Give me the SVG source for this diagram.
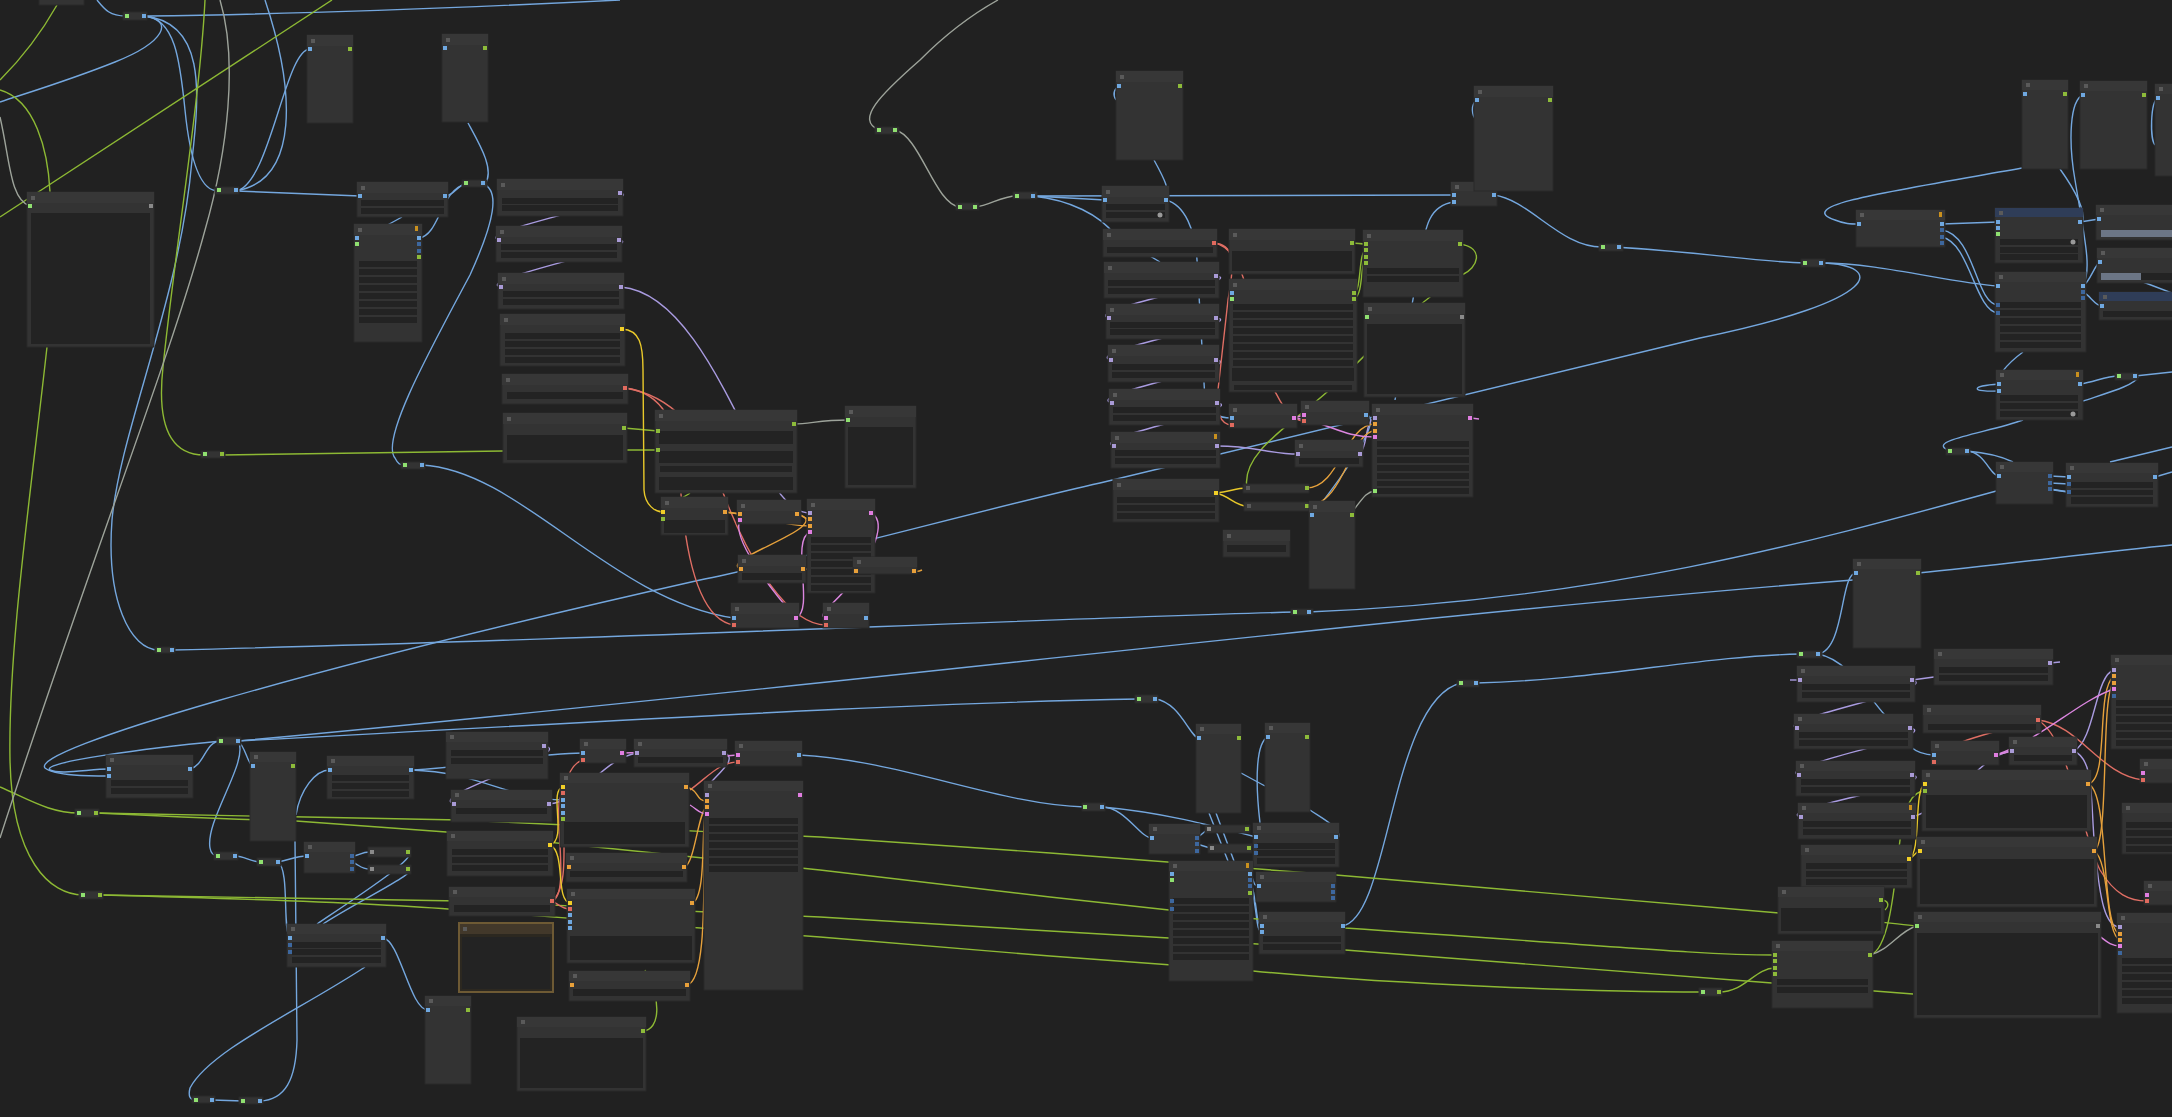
<svg xmlns="http://www.w3.org/2000/svg" width="2172" height="1117" viewBox="0 0 2172 1117">
<style>
.b{fill:#333333;stroke:#2a2a2a;stroke-width:1}
.h{fill:#373737}
.hb{fill:#2f3d58}
.d{fill:#5a5a5a}
.w{fill:#232323}
.r{fill:#333333;stroke:#2a2a2a}
.pb{fill:#6fa8e0}.pg{fill:#8fe070}.po{fill:#8dbb3a}.pp{fill:#a99ad6}.pr{fill:#e06a5e}.py{fill:#f2cf27}.pO{fill:#e8a03a}.pk{fill:#e07de0}.pd{fill:#3d679e}.pG{fill:#8a8a8a}
.ic{fill:#c9901e}
.kn{fill:#9a9a9a}
.sl{fill:#6c7686}
.c{fill:none;stroke-width:1.4}
.cb{stroke:#74a7de}.cg{stroke:#8db934}.cgr{stroke:#9da39a}.cp{stroke:#a99be0}.cr{stroke:#df6e64}.cy{stroke:#e9c92a}.co{stroke:#e6a13c}.ck{stroke:#dc86e0}
</style>
<rect width="2172" height="1117" fill="#212121"/>
<g id="links">
<path class="c cb" d="M147,16 C300,14 460,8 620,0"/>
<path class="c cb" d="M97,0 C105,10 110,16 126,16"/>
<path class="c cb" d="M144,16 C175,20 165,42 115,62 C70,80 30,92 0,102"/>
<path class="c cb" d="M144,16 C175,18 180,60 185,110 C190,160 200,191 218,191"/>
<path class="c cb" d="M144,16 C205,22 200,90 192,160 C180,300 120,430 112,520 C106,600 130,650 159,650"/>
<path class="c cb" d="M236,191 C270,185 285,49 310,49"/>
<path class="c cb" d="M236,191 C300,180 295,90 265,0"/>
<path class="c cb" d="M236,191 L360,196"/>
<path class="c cb" d="M445,196 C455,195 458,184 466,184"/>
<path class="c cb" d="M419,238 C440,235 440,190 466,184"/>
<path class="c cb" d="M382,228 L402,217"/>
<path class="c cb" d="M483,184 C500,190 495,220 470,275 C430,350 380,440 395,458 C398,464 400,465 404,465"/>
<path class="c cb" d="M468,123 C480,145 495,170 485,184"/>
<path class="c cb" d="M422,465 C520,470 610,600 734,618"/>
<path class="c cb" d="M172,650 C600,640 1000,620 1295,612"/>
<path class="c cb" d="M1308,612 C1600,600 1800,545 2000,490 C2030,485 2050,490 2069,492"/>
<path class="c cb" d="M1822,263 C1885,265 1885,300 1700,338 L1100,483 C1000,505 800,560 700,580 C300,670 30,750 45,768 C55,776 90,776 109,776"/>
<path class="c cb" d="M221,741 C150,748 40,762 50,770 C60,775 90,769 109,769"/>
<path class="c cb" d="M190,769 C205,765 205,741 221,741"/>
<path class="c cb" d="M238,741 C245,745 248,766 253,766"/>
<path class="c cb" d="M238,741 C250,760 205,820 210,848 C211,854 214,856 218,856"/>
<path class="c cb" d="M235,856 C245,856 250,862 261,862"/>
<path class="c cb" d="M278,862 C290,860 295,856 307,856"/>
<path class="c cb" d="M278,862 C290,870 282,930 290,938"/>
<path class="c cb" d="M352,856 C360,856 360,852 370,852"/>
<path class="c cb" d="M352,862 C360,865 360,869 370,869"/>
<path class="c cb" d="M408,852 C420,856 360,895 317,924"/>
<path class="c cb" d="M408,869 C420,872 360,900 323,924"/>
<path class="c cb" d="M295,841 L297,1040 C296,1080 285,1100 260,1101"/>
<path class="c cb" d="M212,1100 L243,1101"/>
<path class="c cb" d="M365,967 C300,1010 210,1050 190,1088 C188,1096 190,1100 195,1100"/>
<path class="c cb" d="M383,938 C400,940 410,1010 428,1010"/>
<path class="c cb" d="M296,815 C300,790 315,770 330,770"/>
<path class="c cb" d="M411,770 C480,772 510,800 563,800"/>
<path class="c cb" d="M411,770 C470,768 530,753 583,753"/>
<path class="c cb" d="M238,741 C600,722 900,703 1139,699"/>
<path class="c cb" d="M238,741 C800,690 1400,615 1853,580"/>
<path class="c cb" d="M1918,573 C2000,565 2100,552 2172,545"/>
<path class="c cb" d="M799,755 C900,760 1000,805 1085,807"/>
<path class="c cb" d="M1155,699 C1180,702 1190,738 1199,738"/>
<path class="c cb" d="M1102,807 C1125,807 1140,838 1152,838"/>
<path class="c cb" d="M1102,807 C1160,812 1210,825 1256,837"/>
<path class="c cb" d="M1268,737 C1256,742 1255,780 1260,823"/>
<path class="c cb" d="M1209,813 L1228,861"/>
<path class="c cb" d="M1216,813 L1234,861"/>
<path class="c cb" d="M1310,810 C1325,820 1345,830 1337,840"/>
<path class="c cb" d="M1241,773 L1265,786"/>
<path class="c cb" d="M1342,926 C1390,920 1390,700 1461,683"/>
<path class="c cb" d="M1476,683 C1600,680 1700,656 1801,654"/>
<path class="c cb" d="M1818,654 C1845,650 1840,573 1856,573"/>
<path class="c cb" d="M1818,654 C1850,660 1870,700 1885,715 C1905,745 1915,755 1934,755"/>
<path class="c cb" d="M1197,838 L1208,829"/>
<path class="c cb" d="M1197,844 L1210,848"/>
<path class="c cb" d="M1250,874 C1255,880 1252,886 1259,886"/>
<path class="c cb" d="M1250,880 C1258,900 1255,926 1262,926"/>
<path class="c cb" d="M1250,886 C1258,905 1255,932 1262,932"/>
<path class="c cb" d="M1033,196 L1105,200"/>
<path class="c cb" d="M1033,196 L1454,195"/>
<path class="c cb" d="M1033,196 C1070,200 1100,215 1115,235 L1160,262"/>
<path class="c cb" d="M1154,160 C1165,180 1170,190 1166,200"/>
<path class="c cb" d="M1166,200 C1185,205 1195,230 1197,260 L1205,400 C1208,415 1220,418 1232,418"/>
<path class="c cb" d="M1494,195 C1530,200 1560,247 1602,247"/>
<path class="c cb" d="M1615,247 C1700,252 1760,262 1805,263"/>
<path class="c cb" d="M1822,263 C1880,263 1950,283 1998,286"/>
<path class="c cb" d="M1454,202 C1430,205 1425,225 1420,260 L1395,400"/>
<path class="c cb" d="M1477,100 C1470,105 1472,115 1476,120"/>
<path class="c cb" d="M1119,86 C1113,90 1113,95 1116,100"/>
<path class="c cb" d="M1366,415 C1385,418 1340,480 1312,515"/>
<path class="c cb" d="M2022,168 C1900,190 1790,205 1835,220 C1845,224 1850,224 1859,224"/>
<path class="c cb" d="M1942,224 L1998,222"/>
<path class="c cb" d="M1942,230 C1975,235 1975,303 1998,305"/>
<path class="c cb" d="M1942,237 C1970,243 1975,311 1998,313"/>
<path class="c cb" d="M2080,222 L2099,219"/>
<path class="c cb" d="M2083,95 C2070,100 2068,140 2075,180 C2085,240 2092,270 2083,286"/>
<path class="c cb" d="M2060,169 C2075,190 2085,210 2083,222"/>
<path class="c cb" d="M2083,286 C2090,282 2095,264 2100,262"/>
<path class="c cb" d="M2083,292 C2090,295 2095,306 2102,306"/>
<path class="c cb" d="M2143,282 L2172,293"/>
<path class="c cb" d="M2158,98 C2150,102 2150,140 2155,145"/>
<path class="c cb" d="M2023,352 C2012,360 2005,368 2002,372"/>
<path class="c cb" d="M1999,384 C1970,386 1970,392 1999,391"/>
<path class="c cb" d="M2080,384 C2095,382 2105,376 2119,376"/>
<path class="c cb" d="M2083,401 C2110,392 2135,385 2138,377"/>
<path class="c cb" d="M2135,376 L2172,372"/>
<path class="c cb" d="M2023,420 C1990,432 1930,440 1946,449 C1948,451 1950,451 1950,451"/>
<path class="c cb" d="M1967,451 C1985,452 1990,476 1999,476"/>
<path class="c cb" d="M1967,451 C1990,453 2005,458 2013,462"/>
<path class="c cb" d="M2050,476 L2069,477 M2050,483 L2069,484 M2050,489 L2069,492"/>
<path class="c cb" d="M2155,477 L2172,472"/>
<path class="c cb" d="M2110,462 L2172,447"/>
<path class="c cg" d="M0,90 C35,100 48,150 50,192"/>
<path class="c cg" d="M47,347 C30,500 8,650 10,760 C12,860 50,895 83,895"/>
<path class="c cg" d="M57,5 C40,35 20,60 0,80"/>
<path class="c cg" d="M332,0 L0,217"/>
<path class="c cg" d="M205,0 C200,100 175,250 163,367 C155,440 180,455 204,455"/>
<path class="c cg" d="M222,455 L503,451"/>
<path class="c cg" d="M624,428 L658,431"/>
<path class="c cg" d="M624,450 L658,450"/>
<path class="c cg" d="M0,787 C30,800 50,813 79,813"/>
<path class="c cg" d="M96,813 C250,816 400,818 460,820 L820,837 L1050,853 L1336,875 L1779,913 C1850,918 1880,922 1917,926"/>
<path class="c cg" d="M96,813 C200,818 260,820 296,821 L460,833 L820,870 L1050,897 L1169,910 L1345,928 C1600,945 1700,955 1775,955"/>
<path class="c cg" d="M100,895 L460,901 L820,917 L1050,931 L1169,938 L1345,950 L1772,983 L1913,994"/>
<path class="c cg" d="M100,895 C300,900 400,905 460,910 L820,937 L1050,956 L1253,971 C1400,985 1600,992 1703,992"/>
<path class="c cg" d="M1719,992 C1745,992 1755,968 1775,968"/>
<path class="c cg" d="M1870,955 C1890,950 1895,880 1900,840 C1905,805 1912,791 1925,791"/>
<path class="c cg" d="M1352,243 C1358,243 1360,244 1366,244"/>
<path class="c cg" d="M1354,293 C1362,290 1358,252 1366,250"/>
<path class="c cg" d="M1354,299 C1364,295 1360,260 1366,257"/>
<path class="c cg" d="M1460,244 C1485,248 1478,268 1462,275 C1420,300 1380,340 1340,380 C1300,420 1240,450 1247,488"/>
<path class="c cg" d="M690,493 C680,500 658,510 663,519"/>
<path class="c cg" d="M643,1031 C660,1030 662,1000 645,970"/>
<path class="c cg" d="M1881,900 C1888,900 1890,905 1885,910"/>
<path class="c cgr" d="M220,0 C238,60 228,150 205,230 C170,360 90,560 0,838"/>
<path class="c cgr" d="M0,117 C10,160 10,200 30,206"/>
<path class="c cgr" d="M879,130 C855,120 880,95 920,60 C950,30 980,10 998,0"/>
<path class="c cgr" d="M895,130 C920,135 935,205 960,207"/>
<path class="c cgr" d="M975,207 C990,206 1000,196 1017,196"/>
<path class="c cgr" d="M794,424 C810,424 820,420 848,420"/>
<path class="c cgr" d="M1352,512 C1362,500 1365,492 1375,491"/>
<path class="c cgr" d="M1870,955 C1890,950 1900,930 1917,926"/>
<path class="c cp" d="M620,193 C650,198 470,232 499,240"/>
<path class="c cp" d="M619,240 C650,245 470,280 501,287"/>
<path class="c cp" d="M621,287 C680,292 720,380 760,460 C780,500 795,513 810,513"/>
<path class="c cp" d="M1216,276 C1250,280 1080,310 1109,318"/>
<path class="c cp" d="M1216,318 C1250,322 1080,352 1111,360"/>
<path class="c cp" d="M1216,360 C1250,365 1080,395 1112,403"/>
<path class="c cp" d="M1217,403 C1250,408 1085,438 1114,446"/>
<path class="c cp" d="M1217,446 C1255,446 1270,454 1298,454"/>
<path class="c cp" d="M1360,454 C1368,445 1365,420 1375,418"/>
<path class="c cp" d="M544,746 C580,752 425,795 454,804"/>
<path class="c cp" d="M549,804 C585,800 600,760 637,753"/>
<path class="c cp" d="M724,753 C745,760 695,788 707,795"/>
<path class="c cp" d="M1912,680 L1934,677"/>
<path class="c cp" d="M1912,680 C1945,688 1770,720 1797,728"/>
<path class="c cp" d="M1910,728 C1945,735 1770,767 1799,775"/>
<path class="c cp" d="M1912,775 C1945,782 1770,810 1801,817"/>
<path class="c cp" d="M2074,751 C2095,740 2095,675 2114,670"/>
<path class="c cp" d="M2074,751 C2095,760 2090,800 2095,850 C2100,900 2105,927 2120,927"/>
<path class="c cp" d="M1913,817 C1960,800 1980,755 2012,751"/>
<path class="c cp" d="M1790,680 L1800,680"/>
<path class="c cp" d="M2050,663 L2060,662"/>
<path class="c cr" d="M625,388 C660,392 680,420 680,480 C685,560 700,620 734,625"/>
<path class="c cr" d="M625,388 C670,395 705,430 722,490 C750,565 790,625 826,625"/>
<path class="c cr" d="M1214,243 C1235,245 1235,262 1228,300 L1218,390 C1215,410 1220,425 1232,425"/>
<path class="c cr" d="M1214,243 C1240,247 1248,290 1258,340 C1270,395 1290,421 1304,421"/>
<path class="c cr" d="M552,901 C572,895 550,800 563,793"/>
<path class="c cr" d="M552,901 C560,905 562,909 570,909"/>
<path class="c cr" d="M552,901 C580,880 545,772 583,760"/>
<path class="c cr" d="M690,790 C710,775 720,762 738,762"/>
<path class="c cr" d="M2038,720 C2080,725 2100,775 2143,780"/>
<path class="c cr" d="M2038,720 C2070,740 2080,830 2100,870 C2115,895 2130,901 2147,901"/>
<path class="c cr" d="M2038,720 C2000,730 1920,750 1934,762"/>
<path class="c cy" d="M622,329 C640,330 643,345 643,370 L644,490 C645,505 655,512 663,512"/>
<path class="c cy" d="M1216,493 C1230,492 1235,488 1247,488"/>
<path class="c cy" d="M1216,493 C1230,496 1235,506 1247,506"/>
<path class="c cy" d="M550,845 C568,840 548,790 563,787"/>
<path class="c cy" d="M550,845 C566,852 555,900 570,903"/>
<path class="c cy" d="M1909,859 C1922,852 1913,790 1925,784"/>
<path class="c cy" d="M1909,859 C1915,857 1915,851 1920,851"/>
<path class="c co" d="M725,512 C760,515 780,526 810,526"/>
<path class="c co" d="M725,512 L740,514"/>
<path class="c co" d="M797,514 C840,525 715,560 741,569"/>
<path class="c co" d="M803,569 L856,571"/>
<path class="c co" d="M797,514 C803,516 805,519 810,519"/>
<path class="c co" d="M1306,488 C1340,488 1345,424 1375,424"/>
<path class="c co" d="M1306,506 C1345,506 1350,431 1375,431"/>
<path class="c co" d="M686,787 C700,790 695,801 707,801"/>
<path class="c co" d="M692,903 C708,898 700,815 707,807"/>
<path class="c co" d="M687,985 C712,980 700,830 707,807"/>
<path class="c co" d="M684,867 C695,865 698,810 707,807"/>
<path class="c co" d="M2088,784 C2110,780 2095,690 2114,676"/>
<path class="c co" d="M2088,784 C2110,790 2100,930 2120,934"/>
<path class="c co" d="M2094,851 C2110,845 2100,690 2114,683"/>
<path class="c co" d="M2094,851 C2110,860 2105,935 2120,940"/>
<path class="c co" d="M914,571 C918,572 920,571 922,570"/>
<path class="c ck" d="M796,618 C815,610 790,540 810,532"/>
<path class="c ck" d="M871,513 C885,520 878,545 855,578 C835,605 815,615 826,618"/>
<path class="c ck" d="M796,618 C780,600 730,540 740,520"/>
<path class="c ck" d="M1294,418 L1304,415"/>
<path class="c ck" d="M1294,418 C1330,422 1340,437 1375,437"/>
<path class="c ck" d="M622,753 C680,750 690,760 738,755"/>
<path class="c ck" d="M1996,755 L2012,751"/>
<path class="c ck" d="M1996,755 C2040,740 2080,700 2114,689"/>
<path class="c ck" d="M2098,935 C2105,940 2110,946 2120,946"/>
<path class="c ck" d="M690,805 C698,810 700,814 707,814"/>
<path class="c ck" d="M1471,418 L1479,419"/>
</g>
<g id="nodes">
<g id="n-tl0"><rect class="b" x="39" y="-6" width="45" height="11"/></g>
<g id="n-big"><rect class="b" x="27" y="192" width="127" height="155"/><rect class="h" x="27" y="192" width="127" height="11"/><rect class="d" x="31" y="196" width="4" height="4"/><rect class="pg" x="28" y="204" width="4" height="4"/><rect class="pG" x="149" y="204" width="4" height="4"/><rect class="w" x="31" y="213" width="119" height="131"/></g>
<g id="n-t1"><rect class="b" x="307" y="35" width="46" height="88"/><rect class="h" x="307" y="35" width="46" height="11"/><rect class="d" x="311" y="39" width="4" height="4"/><rect class="pb" x="308" y="47" width="4" height="4"/><rect class="po" x="348" y="47" width="4" height="4"/></g>
<g id="n-t2"><rect class="b" x="442" y="34" width="46" height="88"/><rect class="h" x="442" y="34" width="46" height="11"/><rect class="d" x="446" y="38" width="4" height="4"/><rect class="pb" x="443" y="46" width="4" height="4"/><rect class="po" x="483" y="46" width="4" height="4"/></g>
<g id="n-A"><rect class="b" x="357" y="182" width="91" height="35"/><rect class="h" x="357" y="182" width="91" height="11"/><rect class="d" x="361" y="186" width="4" height="4"/><rect class="pb" x="358" y="194" width="4" height="4"/><rect class="pb" x="443" y="194" width="4" height="4"/><rect class="w" x="361" y="200" width="83" height="6"/><rect class="w" x="361" y="208" width="83" height="6"/></g>
<g id="n-B"><rect class="b" x="354" y="224" width="68" height="118"/><rect class="h" x="354" y="224" width="68" height="11"/><rect class="d" x="358" y="228" width="4" height="4"/><rect class="ic" x="415" y="226" width="3" height="5"/><rect class="pb" x="355" y="236" width="4" height="4"/><rect class="pg" x="355" y="242" width="4" height="4"/><rect class="pb" x="417" y="236" width="4" height="4"/><rect class="pd" x="417" y="242" width="4" height="4"/><rect class="pd" x="417" y="249" width="4" height="4"/><rect class="po" x="417" y="255" width="4" height="4"/><rect class="w" x="359" y="261" width="58" height="6"/><rect class="w" x="359" y="269" width="58" height="6"/><rect class="w" x="359" y="277" width="58" height="6"/><rect class="w" x="359" y="285" width="58" height="6"/><rect class="w" x="359" y="293" width="58" height="6"/><rect class="w" x="359" y="301" width="58" height="6"/><rect class="w" x="359" y="309" width="58" height="6"/><rect class="w" x="359" y="317" width="58" height="6"/></g>
<g id="n-C"><rect class="b" x="497" y="179" width="126" height="37"/><rect class="h" x="497" y="179" width="126" height="11"/><rect class="d" x="501" y="183" width="4" height="4"/><rect class="pp" x="618" y="191" width="4" height="4"/><rect class="w" x="502" y="198" width="116" height="6"/><rect class="w" x="502" y="205" width="116" height="6"/></g>
<g id="n-D"><rect class="b" x="496" y="226" width="126" height="36"/><rect class="h" x="496" y="226" width="126" height="11"/><rect class="d" x="500" y="230" width="4" height="4"/><rect class="pp" x="497" y="238" width="4" height="4"/><rect class="pp" x="617" y="238" width="4" height="4"/><rect class="w" x="501" y="244" width="116" height="6"/><rect class="w" x="501" y="252" width="116" height="6"/></g>
<g id="n-E"><rect class="b" x="498" y="273" width="126" height="36"/><rect class="h" x="498" y="273" width="126" height="11"/><rect class="d" x="502" y="277" width="4" height="4"/><rect class="pp" x="499" y="285" width="4" height="4"/><rect class="pp" x="619" y="285" width="4" height="4"/><rect class="w" x="503" y="291" width="116" height="6"/><rect class="w" x="503" y="299" width="116" height="6"/></g>
<g id="n-F"><rect class="b" x="500" y="314" width="125" height="52"/><rect class="h" x="500" y="314" width="125" height="11"/><rect class="d" x="504" y="318" width="4" height="4"/><rect class="py" x="620" y="327" width="4" height="4"/><rect class="w" x="505" y="333" width="115" height="6"/><rect class="w" x="505" y="341" width="115" height="6"/><rect class="w" x="505" y="349" width="115" height="6"/><rect class="w" x="505" y="357" width="115" height="6"/></g>
<g id="n-G"><rect class="b" x="502" y="374" width="126" height="30"/><rect class="h" x="502" y="374" width="126" height="11"/><rect class="d" x="506" y="378" width="4" height="4"/><rect class="pr" x="623" y="386" width="4" height="4"/><rect class="w" x="507" y="392" width="116" height="7"/></g>
<g id="n-H"><rect class="b" x="503" y="413" width="124" height="50"/><rect class="h" x="503" y="413" width="124" height="11"/><rect class="d" x="507" y="417" width="4" height="4"/><rect class="po" x="622" y="426" width="4" height="4"/><rect class="w" x="507" y="435" width="116" height="25"/></g>
<g id="n-I"><rect class="b" x="655" y="410" width="142" height="83"/><rect class="h" x="655" y="410" width="142" height="11"/><rect class="d" x="659" y="414" width="4" height="4"/><rect class="w" x="659" y="431" width="134" height="13"/><rect class="w" x="659" y="451" width="134" height="12"/><rect class="w" x="660" y="466" width="132" height="6"/><rect class="w" x="659" y="477" width="134" height="13"/><rect class="po" x="656" y="429" width="4" height="4"/><rect class="po" x="656" y="448" width="4" height="4"/><rect class="po" x="792" y="422" width="4" height="4"/></g>
<g id="n-J"><rect class="b" x="845" y="406" width="71" height="82"/><rect class="h" x="845" y="406" width="71" height="11"/><rect class="d" x="849" y="410" width="4" height="4"/><rect class="pg" x="846" y="418" width="4" height="4"/><rect class="w" x="848" y="427" width="65" height="58"/></g>
<g id="n-K"><rect class="b" x="661" y="497" width="67" height="38"/><rect class="h" x="661" y="497" width="67" height="11"/><rect class="d" x="665" y="501" width="4" height="4"/><rect class="w" x="664" y="520" width="61" height="13"/><rect class="py" x="661" y="510" width="4" height="4"/><rect class="po" x="661" y="517" width="4" height="4"/><rect class="pO" x="723" y="510" width="4" height="4"/></g>
<g id="n-L"><rect class="b" x="737" y="500" width="64" height="24"/><rect class="h" x="737" y="500" width="64" height="11"/><rect class="d" x="741" y="504" width="4" height="4"/><rect class="pO" x="738" y="512" width="4" height="4"/><rect class="pk" x="738" y="518" width="4" height="4"/><rect class="pO" x="795" y="512" width="4" height="4"/></g>
<g id="n-M"><rect class="b" x="807" y="499" width="68" height="94"/><rect class="h" x="807" y="499" width="68" height="11"/><rect class="d" x="811" y="503" width="4" height="4"/><rect class="pp" x="808" y="511" width="4" height="4"/><rect class="pO" x="808" y="517" width="4" height="4"/><rect class="pO" x="808" y="524" width="4" height="4"/><rect class="pk" x="808" y="530" width="4" height="4"/><rect class="pk" x="869" y="511" width="4" height="4"/><rect class="w" x="811" y="537" width="60" height="6"/><rect class="w" x="811" y="545" width="60" height="6"/><rect class="w" x="811" y="553" width="60" height="6"/><rect class="w" x="811" y="561" width="60" height="6"/><rect class="w" x="811" y="569" width="60" height="6"/><rect class="w" x="811" y="577" width="60" height="6"/><rect class="w" x="811" y="585" width="60" height="6"/></g>
<g id="n-N"><rect class="b" x="738" y="555" width="68" height="28"/><rect class="h" x="738" y="555" width="68" height="11"/><rect class="d" x="742" y="559" width="4" height="4"/><rect class="pO" x="739" y="567" width="4" height="4"/><rect class="pO" x="801" y="567" width="4" height="4"/><rect class="w" x="742" y="573" width="60" height="7"/></g>
<g id="n-O"><rect class="b" x="853" y="557" width="64" height="17"/><rect class="h" x="853" y="557" width="64" height="10"/><rect class="d" x="857" y="560" width="4" height="4"/><rect class="pO" x="854" y="569" width="4" height="4"/><rect class="pO" x="912" y="569" width="4" height="4"/></g>
<g id="n-P"><rect class="b" x="731" y="603" width="68" height="25"/><rect class="h" x="731" y="603" width="68" height="11"/><rect class="d" x="735" y="607" width="4" height="4"/><rect class="pb" x="732" y="616" width="4" height="4"/><rect class="pr" x="732" y="623" width="4" height="4"/><rect class="pk" x="794" y="616" width="4" height="4"/></g>
<g id="n-Q"><rect class="b" x="823" y="603" width="46" height="25"/><rect class="h" x="823" y="603" width="46" height="11"/><rect class="d" x="827" y="607" width="4" height="4"/><rect class="pk" x="824" y="616" width="4" height="4"/><rect class="pr" x="824" y="623" width="4" height="4"/><rect class="pb" x="864" y="616" width="4" height="4"/></g>
<g id="n-Ct1"><rect class="b" x="1116" y="71" width="67" height="89"/><rect class="h" x="1116" y="71" width="67" height="11"/><rect class="d" x="1120" y="75" width="4" height="4"/><rect class="pb" x="1117" y="84" width="4" height="4"/><rect class="po" x="1178" y="84" width="4" height="4"/></g>
<g id="n-N1"><rect class="b" x="1102" y="186" width="67" height="36"/><rect class="h" x="1102" y="186" width="67" height="11"/><rect class="d" x="1106" y="190" width="4" height="4"/><rect class="pb" x="1103" y="198" width="4" height="4"/><rect class="pb" x="1164" y="198" width="4" height="4"/><rect class="w" x="1106" y="204" width="59" height="6"/><rect class="w" x="1106" y="212" width="59" height="6"/><circle class="kn" cx="1160" cy="215" r="2.5"/></g>
<g id="n-N2"><rect class="b" x="1103" y="229" width="114" height="28"/><rect class="h" x="1103" y="229" width="114" height="11"/><rect class="d" x="1107" y="233" width="4" height="4"/><rect class="pr" x="1212" y="241" width="4" height="4"/><rect class="w" x="1107" y="247" width="106" height="6"/></g>
<g id="n-N3"><rect class="b" x="1104" y="262" width="115" height="36"/><rect class="h" x="1104" y="262" width="115" height="11"/><rect class="d" x="1108" y="266" width="4" height="4"/><rect class="pp" x="1214" y="274" width="4" height="4"/><rect class="w" x="1108" y="280" width="107" height="6"/><rect class="w" x="1108" y="288" width="107" height="6"/></g>
<g id="n-N4"><rect class="b" x="1106" y="304" width="113" height="35"/><rect class="h" x="1106" y="304" width="113" height="11"/><rect class="d" x="1110" y="308" width="4" height="4"/><rect class="pp" x="1107" y="316" width="4" height="4"/><rect class="pp" x="1214" y="316" width="4" height="4"/><rect class="w" x="1110" y="322" width="105" height="6"/><rect class="w" x="1110" y="329" width="105" height="6"/></g>
<g id="n-N5"><rect class="b" x="1108" y="345" width="111" height="37"/><rect class="h" x="1108" y="345" width="111" height="11"/><rect class="d" x="1112" y="349" width="4" height="4"/><rect class="pp" x="1109" y="358" width="4" height="4"/><rect class="pp" x="1214" y="358" width="4" height="4"/><rect class="w" x="1112" y="364" width="103" height="6"/><rect class="w" x="1112" y="372" width="103" height="6"/></g>
<g id="n-N6"><rect class="b" x="1109" y="389" width="111" height="36"/><rect class="h" x="1109" y="389" width="111" height="11"/><rect class="d" x="1113" y="393" width="4" height="4"/><rect class="pp" x="1110" y="401" width="4" height="4"/><rect class="pp" x="1215" y="401" width="4" height="4"/><rect class="w" x="1113" y="407" width="103" height="6"/><rect class="w" x="1113" y="415" width="103" height="6"/></g>
<g id="n-N7"><rect class="b" x="1111" y="432" width="109" height="36"/><rect class="h" x="1111" y="432" width="109" height="11"/><rect class="d" x="1115" y="436" width="4" height="4"/><rect class="ic" x="1214" y="434" width="3" height="5"/><rect class="pp" x="1112" y="444" width="4" height="4"/><rect class="pp" x="1215" y="444" width="4" height="4"/><rect class="w" x="1115" y="450" width="101" height="6"/><rect class="w" x="1115" y="458" width="101" height="6"/></g>
<g id="n-N8"><rect class="b" x="1113" y="479" width="106" height="43"/><rect class="h" x="1113" y="479" width="106" height="11"/><rect class="d" x="1117" y="483" width="4" height="4"/><rect class="py" x="1214" y="491" width="4" height="4"/><rect class="w" x="1117" y="497" width="98" height="6"/><rect class="w" x="1117" y="505" width="98" height="6"/><rect class="w" x="1117" y="513" width="98" height="6"/></g>
<g id="n-N9"><rect class="b" x="1229" y="229" width="126" height="45"/><rect class="h" x="1229" y="229" width="126" height="11"/><rect class="d" x="1233" y="233" width="4" height="4"/><rect class="po" x="1350" y="241" width="4" height="4"/><rect class="w" x="1232" y="251" width="120" height="20"/></g>
<g id="n-N10"><rect class="b" x="1229" y="279" width="128" height="113"/><rect class="h" x="1229" y="279" width="128" height="11"/><rect class="d" x="1233" y="283" width="4" height="4"/><rect class="pb" x="1230" y="291" width="4" height="4"/><rect class="pg" x="1230" y="297" width="4" height="4"/><rect class="po" x="1352" y="291" width="4" height="4"/><rect class="po" x="1352" y="297" width="4" height="4"/><rect class="w" x="1233" y="304" width="120" height="6"/><rect class="w" x="1233" y="312" width="120" height="6"/><rect class="w" x="1233" y="320" width="120" height="6"/><rect class="w" x="1233" y="328" width="120" height="6"/><rect class="w" x="1233" y="336" width="120" height="6"/><rect class="w" x="1233" y="344" width="120" height="6"/><rect class="w" x="1233" y="352" width="120" height="6"/><rect class="w" x="1233" y="360" width="120" height="6"/><rect class="w" x="1232" y="368" width="122" height="13"/><rect class="w" x="1234" y="385" width="118" height="5"/></g>
<g id="n-N11"><rect class="b" x="1363" y="230" width="100" height="67"/><rect class="h" x="1363" y="230" width="100" height="11"/><rect class="d" x="1367" y="234" width="4" height="4"/><rect class="po" x="1364" y="242" width="4" height="4"/><rect class="po" x="1364" y="248" width="4" height="4"/><rect class="po" x="1364" y="255" width="4" height="4"/><rect class="po" x="1364" y="261" width="4" height="4"/><rect class="po" x="1458" y="242" width="4" height="4"/><rect class="w" x="1367" y="268" width="92" height="6"/><rect class="w" x="1367" y="276" width="92" height="6"/></g>
<g id="n-N12"><rect class="b" x="1364" y="303" width="101" height="94"/><rect class="h" x="1364" y="303" width="101" height="11"/><rect class="d" x="1368" y="307" width="4" height="4"/><rect class="pg" x="1365" y="315" width="4" height="4"/><rect class="pG" x="1460" y="315" width="4" height="4"/><rect class="w" x="1367" y="324" width="95" height="70"/></g>
<g id="n-N13"><rect class="b" x="1229" y="404" width="68" height="24"/><rect class="h" x="1229" y="404" width="68" height="11"/><rect class="d" x="1233" y="408" width="4" height="4"/><rect class="pb" x="1230" y="416" width="4" height="4"/><rect class="pr" x="1230" y="423" width="4" height="4"/><rect class="pk" x="1292" y="416" width="4" height="4"/></g>
<g id="n-N14"><rect class="b" x="1301" y="401" width="68" height="24"/><rect class="h" x="1301" y="401" width="68" height="11"/><rect class="d" x="1305" y="405" width="4" height="4"/><rect class="pk" x="1302" y="413" width="4" height="4"/><rect class="pr" x="1302" y="419" width="4" height="4"/><rect class="pb" x="1364" y="413" width="4" height="4"/></g>
<g id="n-N15"><rect class="b" x="1372" y="404" width="101" height="93"/><rect class="h" x="1372" y="404" width="101" height="11"/><rect class="d" x="1376" y="408" width="4" height="4"/><rect class="pp" x="1373" y="416" width="4" height="4"/><rect class="pO" x="1373" y="422" width="4" height="4"/><rect class="pO" x="1373" y="429" width="4" height="4"/><rect class="pk" x="1373" y="435" width="4" height="4"/><rect class="pk" x="1468" y="416" width="4" height="4"/><rect class="w" x="1377" y="441" width="92" height="6"/><rect class="w" x="1377" y="449" width="92" height="6"/><rect class="w" x="1377" y="457" width="92" height="6"/><rect class="w" x="1377" y="465" width="92" height="6"/><rect class="w" x="1377" y="473" width="92" height="6"/><rect class="w" x="1377" y="481" width="92" height="5"/><rect class="w" x="1377" y="488" width="92" height="6"/><rect class="pg" x="1373" y="489" width="4" height="4"/></g>
<g id="n-N16"><rect class="b" x="1295" y="440" width="68" height="27"/><rect class="h" x="1295" y="440" width="68" height="11"/><rect class="d" x="1299" y="444" width="4" height="4"/><rect class="pp" x="1296" y="452" width="4" height="4"/><rect class="pp" x="1358" y="452" width="4" height="4"/><rect class="w" x="1299" y="458" width="60" height="6"/></g>
<g id="n-N17"><rect class="b" x="1243" y="484" width="66" height="9"/><rect class="d" x="1246" y="486" width="4" height="4"/><rect class="po" x="1305" y="486" width="4" height="4"/></g>
<g id="n-N18"><rect class="b" x="1244" y="502" width="66" height="9"/><rect class="d" x="1247" y="504" width="4" height="4"/><rect class="po" x="1305" y="504" width="4" height="4"/></g>
<g id="n-N19"><rect class="b" x="1309" y="501" width="46" height="88"/><rect class="h" x="1309" y="501" width="46" height="11"/><rect class="d" x="1313" y="505" width="4" height="4"/><rect class="pb" x="1310" y="513" width="4" height="4"/><rect class="po" x="1350" y="513" width="4" height="4"/></g>
<g id="n-N20"><rect class="b" x="1223" y="530" width="67" height="27"/><rect class="h" x="1223" y="530" width="67" height="11"/><rect class="d" x="1227" y="534" width="4" height="4"/><rect class="w" x="1227" y="545" width="59" height="7"/></g>
<g id="r1"><rect class="r" x="875" y="127" width="24" height="7"/><rect class="pg" x="877" y="128" width="4" height="4"/><rect class="pg" x="893" y="128" width="4" height="4"/></g>
<g id="r2"><rect class="r" x="956" y="203" width="23" height="7"/><rect class="pg" x="958" y="205" width="4" height="4"/><rect class="pg" x="973" y="205" width="4" height="4"/></g>
<g id="r3"><rect class="r" x="1013" y="192" width="24" height="7"/><rect class="pg" x="1015" y="194" width="4" height="4"/><rect class="pb" x="1031" y="194" width="4" height="4"/></g>
<g id="n-Ct2"><rect class="b" x="1451" y="182" width="46" height="24"/><rect class="h" x="1451" y="182" width="46" height="9"/><rect class="d" x="1455" y="185" width="4" height="4"/><rect class="pb" x="1452" y="193" width="4" height="4"/><rect class="pb" x="1452" y="200" width="4" height="4"/><rect class="pb" x="1492" y="193" width="4" height="4"/></g>
<g id="n-Ct3"><rect class="b" x="1474" y="86" width="79" height="105"/><rect class="h" x="1474" y="86" width="79" height="11"/><rect class="d" x="1478" y="90" width="4" height="4"/><rect class="pb" x="1475" y="98" width="4" height="4"/><rect class="po" x="1548" y="98" width="4" height="4"/></g>
<g id="r4"><rect class="r" x="1599" y="244" width="24" height="7"/><rect class="pg" x="1601" y="245" width="4" height="4"/><rect class="pb" x="1617" y="245" width="4" height="4"/></g>
<g id="n-R1"><rect class="b" x="1856" y="210" width="89" height="37"/><rect class="h" x="1856" y="210" width="89" height="10"/><rect class="d" x="1860" y="213" width="4" height="4"/><rect class="ic" x="1939" y="212" width="3" height="5"/><rect class="pb" x="1857" y="222" width="4" height="4"/><rect class="pb" x="1940" y="222" width="4" height="4"/><rect class="pd" x="1940" y="228" width="4" height="4"/><rect class="pd" x="1940" y="235" width="4" height="4"/><rect class="pd" x="1940" y="241" width="4" height="4"/></g>
<g id="r5"><rect class="r" x="1801" y="259" width="24" height="8"/><rect class="pg" x="1803" y="261" width="4" height="4"/><rect class="pb" x="1819" y="261" width="4" height="4"/></g>
<g id="n-T1"><rect class="b" x="2022" y="80" width="46" height="89"/><rect class="h" x="2022" y="80" width="46" height="10"/><rect class="d" x="2026" y="83" width="4" height="4"/><rect class="pb" x="2023" y="92" width="4" height="4"/><rect class="po" x="2063" y="92" width="4" height="4"/></g>
<g id="n-T2"><rect class="b" x="2080" y="81" width="67" height="88"/><rect class="h" x="2080" y="81" width="67" height="10"/><rect class="d" x="2084" y="84" width="4" height="4"/><rect class="pb" x="2081" y="93" width="4" height="4"/><rect class="po" x="2142" y="93" width="4" height="4"/></g>
<g id="n-T3"><rect class="b" x="2155" y="84" width="30" height="92"/><rect class="h" x="2155" y="84" width="30" height="10"/><rect class="d" x="2159" y="87" width="4" height="4"/><rect class="pb" x="2156" y="96" width="4" height="4"/></g>
<g id="n-T4"><rect class="b" x="1995" y="208" width="88" height="55"/><rect class="hb" x="1995" y="208" width="88" height="9"/><rect class="d" x="1999" y="211" width="4" height="4"/><rect class="pb" x="1996" y="220" width="4" height="4"/><rect class="pb" x="1996" y="226" width="4" height="4"/><rect class="pg" x="1996" y="232" width="4" height="4"/><rect class="pb" x="2078" y="220" width="4" height="4"/><rect class="w" x="2000" y="239" width="78" height="6"/><rect class="w" x="2000" y="247" width="78" height="6"/><rect class="w" x="2000" y="254" width="78" height="6"/><circle class="kn" cx="2073" cy="242" r="2.5"/></g>
<g id="n-T5"><rect class="b" x="1995" y="272" width="91" height="80"/><rect class="h" x="1995" y="272" width="91" height="10"/><rect class="d" x="1999" y="275" width="4" height="4"/><rect class="w" x="2000" y="302" width="81" height="6"/><rect class="w" x="2000" y="310" width="81" height="6"/><rect class="w" x="2000" y="318" width="81" height="6"/><rect class="w" x="2000" y="326" width="81" height="6"/><rect class="w" x="2000" y="334" width="81" height="6"/><rect class="w" x="2000" y="342" width="81" height="6"/><rect class="pb" x="1996" y="284" width="4" height="4"/><rect class="pd" x="1996" y="303" width="4" height="4"/><rect class="pd" x="1996" y="311" width="4" height="4"/><rect class="pb" x="2081" y="284" width="4" height="4"/><rect class="pd" x="2081" y="290" width="4" height="4"/><rect class="pd" x="2081" y="296" width="4" height="4"/></g>
<g id="n-T6"><rect class="b" x="2096" y="205" width="80" height="35"/><rect class="h" x="2096" y="205" width="80" height="10"/><rect class="d" x="2100" y="208" width="4" height="4"/><rect class="pb" x="2097" y="217" width="4" height="4"/><rect class="sl" x="2101" y="230" width="75" height="7"/></g>
<g id="n-T7"><rect class="b" x="2097" y="248" width="80" height="35"/><rect class="h" x="2097" y="248" width="80" height="10"/><rect class="d" x="2101" y="251" width="4" height="4"/><rect class="pb" x="2098" y="260" width="4" height="4"/><rect class="w" x="2101" y="273" width="75" height="7"/><rect class="sl" x="2101" y="273" width="40" height="7"/></g>
<g id="n-T8"><rect class="b" x="2099" y="292" width="80" height="28"/><rect class="hb" x="2099" y="292" width="80" height="9"/><rect class="d" x="2103" y="295" width="4" height="4"/><rect class="pb" x="2100" y="304" width="4" height="4"/><rect class="w" x="2103" y="311" width="73" height="6"/></g>
<g id="n-R3"><rect class="b" x="1996" y="370" width="87" height="50"/><rect class="h" x="1996" y="370" width="87" height="10"/><rect class="d" x="2000" y="373" width="4" height="4"/><rect class="ic" x="2076" y="372" width="3" height="5"/><rect class="pb" x="1997" y="382" width="4" height="4"/><rect class="pb" x="1997" y="389" width="4" height="4"/><rect class="pb" x="2078" y="382" width="4" height="4"/><rect class="w" x="2000" y="395" width="78" height="6"/><rect class="w" x="2000" y="403" width="78" height="6"/><rect class="w" x="2000" y="411" width="78" height="6"/><circle class="kn" cx="2073" cy="414" r="2.5"/></g>
<g id="r6"><rect class="r" x="2115" y="373" width="23" height="7"/><rect class="pg" x="2117" y="374" width="4" height="4"/><rect class="pb" x="2133" y="374" width="4" height="4"/></g>
<g id="r7"><rect class="r" x="1946" y="448" width="24" height="7"/><rect class="pg" x="1948" y="449" width="4" height="4"/><rect class="pb" x="1965" y="449" width="4" height="4"/></g>
<g id="n-R4"><rect class="b" x="1996" y="462" width="57" height="42"/><rect class="h" x="1996" y="462" width="57" height="10"/><rect class="d" x="2000" y="465" width="4" height="4"/><rect class="pb" x="1997" y="474" width="4" height="4"/><rect class="pd" x="2048" y="474" width="4" height="4"/><rect class="pd" x="2048" y="481" width="4" height="4"/><rect class="pd" x="2048" y="487" width="4" height="4"/></g>
<g id="n-R5"><rect class="b" x="2066" y="463" width="92" height="44"/><rect class="h" x="2066" y="463" width="92" height="10"/><rect class="d" x="2070" y="466" width="4" height="4"/><rect class="w" x="2071" y="482" width="82" height="6"/><rect class="w" x="2071" y="490" width="82" height="5"/><rect class="w" x="2071" y="497" width="82" height="7"/><rect class="pb" x="2067" y="475" width="4" height="4"/><rect class="pd" x="2067" y="482" width="4" height="4"/><rect class="pd" x="2067" y="490" width="4" height="4"/><rect class="pb" x="2153" y="475" width="4" height="4"/></g>
<g id="n-S1"><rect class="b" x="1853" y="559" width="68" height="89"/><rect class="h" x="1853" y="559" width="68" height="10"/><rect class="d" x="1857" y="562" width="4" height="4"/><rect class="pb" x="1854" y="571" width="4" height="4"/><rect class="po" x="1916" y="571" width="4" height="4"/></g>
<g id="r8"><rect class="r" x="1797" y="651" width="25" height="7"/><rect class="pg" x="1799" y="652" width="4" height="4"/><rect class="pb" x="1816" y="652" width="4" height="4"/></g>
<g id="n-S2"><rect class="b" x="1797" y="666" width="118" height="36"/><rect class="h" x="1797" y="666" width="118" height="10"/><rect class="d" x="1801" y="669" width="4" height="4"/><rect class="pp" x="1798" y="678" width="4" height="4"/><rect class="pp" x="1910" y="678" width="4" height="4"/><rect class="w" x="1802" y="684" width="108" height="6"/><rect class="w" x="1802" y="692" width="108" height="6"/></g>
<g id="n-S3"><rect class="b" x="1934" y="649" width="119" height="36"/><rect class="h" x="1934" y="649" width="119" height="10"/><rect class="d" x="1938" y="652" width="4" height="4"/><rect class="pp" x="2048" y="661" width="4" height="4"/><rect class="w" x="1939" y="667" width="109" height="6"/><rect class="w" x="1939" y="675" width="109" height="6"/></g>
<g id="n-S5"><rect class="b" x="1794" y="714" width="119" height="35"/><rect class="h" x="1794" y="714" width="119" height="10"/><rect class="d" x="1798" y="717" width="4" height="4"/><rect class="pp" x="1795" y="726" width="4" height="4"/><rect class="pp" x="1908" y="726" width="4" height="4"/><rect class="w" x="1799" y="732" width="109" height="6"/><rect class="w" x="1799" y="740" width="109" height="6"/></g>
<g id="n-S6"><rect class="b" x="1796" y="761" width="119" height="35"/><rect class="h" x="1796" y="761" width="119" height="10"/><rect class="d" x="1800" y="764" width="4" height="4"/><rect class="pp" x="1797" y="773" width="4" height="4"/><rect class="pp" x="1910" y="773" width="4" height="4"/><rect class="w" x="1801" y="779" width="109" height="6"/><rect class="w" x="1801" y="787" width="109" height="6"/></g>
<g id="n-S7"><rect class="b" x="1798" y="803" width="118" height="36"/><rect class="h" x="1798" y="803" width="118" height="10"/><rect class="d" x="1802" y="806" width="4" height="4"/><rect class="ic" x="1909" y="805" width="3" height="5"/><rect class="pp" x="1799" y="815" width="4" height="4"/><rect class="pp" x="1911" y="815" width="4" height="4"/><rect class="w" x="1803" y="821" width="108" height="6"/><rect class="w" x="1803" y="829" width="108" height="6"/></g>
<g id="n-S8"><rect class="b" x="1801" y="845" width="111" height="43"/><rect class="h" x="1801" y="845" width="111" height="10"/><rect class="d" x="1805" y="848" width="4" height="4"/><rect class="py" x="1907" y="857" width="4" height="4"/><rect class="w" x="1806" y="863" width="101" height="6"/><rect class="w" x="1806" y="871" width="101" height="6"/><rect class="w" x="1806" y="879" width="101" height="6"/></g>
<g id="n-S9"><rect class="b" x="1778" y="887" width="106" height="47"/><rect class="h" x="1778" y="887" width="106" height="10"/><rect class="d" x="1782" y="890" width="4" height="4"/><rect class="po" x="1879" y="898" width="4" height="4"/><rect class="w" x="1781" y="908" width="100" height="23"/></g>
<g id="n-S10"><rect class="b" x="1772" y="941" width="101" height="67"/><rect class="h" x="1772" y="941" width="101" height="10"/><rect class="d" x="1776" y="944" width="4" height="4"/><rect class="po" x="1773" y="953" width="4" height="4"/><rect class="po" x="1773" y="959" width="4" height="4"/><rect class="po" x="1773" y="966" width="4" height="4"/><rect class="po" x="1773" y="972" width="4" height="4"/><rect class="po" x="1868" y="953" width="4" height="4"/><rect class="w" x="1777" y="979" width="91" height="6"/><rect class="w" x="1777" y="987" width="91" height="6"/></g>
<g id="n-S11"><rect class="b" x="1923" y="705" width="118" height="28"/><rect class="h" x="1923" y="705" width="118" height="10"/><rect class="d" x="1927" y="708" width="4" height="4"/><rect class="pr" x="2036" y="718" width="4" height="4"/><rect class="w" x="1928" y="724" width="108" height="6"/></g>
<g id="n-S12"><rect class="b" x="1931" y="741" width="68" height="24"/><rect class="h" x="1931" y="741" width="68" height="10"/><rect class="d" x="1935" y="744" width="4" height="4"/><rect class="pb" x="1932" y="753" width="4" height="4"/><rect class="pr" x="1932" y="760" width="4" height="4"/><rect class="pk" x="1994" y="753" width="4" height="4"/></g>
<g id="n-S13"><rect class="b" x="2009" y="737" width="68" height="28"/><rect class="h" x="2009" y="737" width="68" height="10"/><rect class="d" x="2013" y="740" width="4" height="4"/><rect class="pp" x="2010" y="749" width="4" height="4"/><rect class="pp" x="2072" y="749" width="4" height="4"/><rect class="w" x="2014" y="755" width="58" height="6"/></g>
<g id="n-S14"><rect class="b" x="1922" y="770" width="169" height="61"/><rect class="h" x="1922" y="770" width="169" height="10"/><rect class="d" x="1926" y="773" width="4" height="4"/><rect class="py" x="1923" y="782" width="4" height="4"/><rect class="po" x="1923" y="789" width="4" height="4"/><rect class="pO" x="2086" y="782" width="4" height="4"/><rect class="w" x="1926" y="795" width="161" height="33"/></g>
<g id="n-S15"><rect class="b" x="1917" y="837" width="180" height="70"/><rect class="h" x="1917" y="837" width="180" height="10"/><rect class="d" x="1921" y="840" width="4" height="4"/><rect class="py" x="1918" y="849" width="4" height="4"/><rect class="pO" x="2092" y="849" width="4" height="4"/><rect class="w" x="1920" y="859" width="174" height="45"/></g>
<g id="n-S16"><rect class="b" x="1914" y="912" width="187" height="106"/><rect class="h" x="1914" y="912" width="187" height="10"/><rect class="d" x="1918" y="915" width="4" height="4"/><rect class="pg" x="1915" y="924" width="4" height="4"/><rect class="pG" x="2096" y="924" width="4" height="4"/><rect class="w" x="1917" y="933" width="181" height="82"/></g>
<g id="n-S17"><rect class="b" x="2111" y="655" width="70" height="94"/><rect class="h" x="2111" y="655" width="70" height="10"/><rect class="d" x="2115" y="658" width="4" height="4"/><rect class="pp" x="2112" y="668" width="4" height="4"/><rect class="pO" x="2112" y="674" width="4" height="4"/><rect class="pO" x="2112" y="681" width="4" height="4"/><rect class="pk" x="2112" y="687" width="4" height="4"/><rect class="pd" x="2112" y="694" width="4" height="4"/><rect class="w" x="2116" y="700" width="60" height="6"/><rect class="w" x="2116" y="708" width="60" height="6"/><rect class="w" x="2116" y="716" width="60" height="6"/><rect class="w" x="2116" y="724" width="60" height="6"/><rect class="w" x="2116" y="732" width="60" height="6"/><rect class="w" x="2116" y="740" width="60" height="6"/></g>
<g id="n-S18"><rect class="b" x="2140" y="759" width="40" height="24"/><rect class="h" x="2140" y="759" width="40" height="10"/><rect class="d" x="2144" y="762" width="4" height="4"/><rect class="pk" x="2141" y="771" width="4" height="4"/><rect class="pr" x="2141" y="778" width="4" height="4"/></g>
<g id="n-S19"><rect class="b" x="2122" y="803" width="60" height="51"/><rect class="h" x="2122" y="803" width="60" height="10"/><rect class="d" x="2126" y="806" width="4" height="4"/><rect class="w" x="2126" y="822" width="50" height="6"/><rect class="w" x="2126" y="830" width="50" height="6"/><rect class="w" x="2126" y="838" width="50" height="6"/><rect class="w" x="2126" y="846" width="50" height="6"/></g>
<g id="n-S20"><rect class="b" x="2144" y="881" width="40" height="24"/><rect class="h" x="2144" y="881" width="40" height="10"/><rect class="d" x="2148" y="884" width="4" height="4"/><rect class="pk" x="2145" y="893" width="4" height="4"/><rect class="pr" x="2145" y="899" width="4" height="4"/></g>
<g id="n-S21"><rect class="b" x="2117" y="913" width="60" height="100"/><rect class="h" x="2117" y="913" width="60" height="10"/><rect class="d" x="2121" y="916" width="4" height="4"/><rect class="pp" x="2118" y="925" width="4" height="4"/><rect class="pO" x="2118" y="932" width="4" height="4"/><rect class="pO" x="2118" y="938" width="4" height="4"/><rect class="pk" x="2118" y="944" width="4" height="4"/><rect class="pd" x="2118" y="951" width="4" height="4"/><rect class="w" x="2122" y="958" width="55" height="6"/><rect class="w" x="2122" y="966" width="55" height="6"/><rect class="w" x="2122" y="974" width="55" height="6"/><rect class="w" x="2122" y="982" width="55" height="6"/><rect class="w" x="2122" y="990" width="55" height="6"/><rect class="w" x="2122" y="998" width="55" height="6"/></g>
<g id="r9"><rect class="r" x="1135" y="695" width="23" height="8"/><rect class="pg" x="1137" y="697" width="4" height="4"/><rect class="pb" x="1153" y="697" width="4" height="4"/></g>
<g id="r10"><rect class="r" x="1457" y="680" width="22" height="7"/><rect class="pg" x="1459" y="681" width="4" height="4"/><rect class="pb" x="1474" y="681" width="4" height="4"/></g>
<g id="r11"><rect class="r" x="1082" y="803" width="23" height="8"/><rect class="pg" x="1083" y="805" width="4" height="4"/><rect class="pb" x="1100" y="805" width="4" height="4"/></g>
<g id="r12"><rect class="r" x="1699" y="988" width="23" height="8"/><rect class="pg" x="1701" y="990" width="4" height="4"/><rect class="po" x="1717" y="990" width="4" height="4"/></g>
<g id="n-U1"><rect class="b" x="1196" y="724" width="45" height="89"/><rect class="h" x="1196" y="724" width="45" height="10"/><rect class="d" x="1200" y="727" width="4" height="4"/><rect class="pb" x="1197" y="736" width="4" height="4"/><rect class="po" x="1237" y="736" width="4" height="4"/></g>
<g id="n-U2"><rect class="b" x="1265" y="723" width="45" height="89"/><rect class="h" x="1265" y="723" width="45" height="10"/><rect class="d" x="1269" y="726" width="4" height="4"/><rect class="pb" x="1266" y="735" width="4" height="4"/><rect class="po" x="1305" y="735" width="4" height="4"/></g>
<g id="n-U3"><rect class="b" x="1149" y="824" width="51" height="30"/><rect class="h" x="1149" y="824" width="51" height="10"/><rect class="d" x="1153" y="827" width="4" height="4"/><rect class="pb" x="1150" y="836" width="4" height="4"/><rect class="pd" x="1195" y="836" width="4" height="4"/><rect class="pd" x="1195" y="842" width="4" height="4"/><rect class="pd" x="1195" y="849" width="4" height="4"/></g>
<g id="n-U4"><rect class="b" x="1205" y="825" width="45" height="8"/><rect class="pG" x="1207" y="827" width="4" height="4"/><rect class="po" x="1245" y="827" width="4" height="4"/></g>
<g id="n-U5"><rect class="b" x="1208" y="844" width="44" height="9"/><rect class="pG" x="1210" y="846" width="4" height="4"/><rect class="po" x="1247" y="846" width="4" height="4"/></g>
<g id="n-U6"><rect class="b" x="1253" y="823" width="86" height="44"/><rect class="h" x="1253" y="823" width="86" height="10"/><rect class="d" x="1257" y="826" width="4" height="4"/><rect class="w" x="1257" y="843" width="78" height="6"/><rect class="w" x="1257" y="850" width="78" height="6"/><rect class="w" x="1257" y="858" width="78" height="6"/><rect class="pb" x="1254" y="835" width="4" height="4"/><rect class="pd" x="1254" y="844" width="4" height="4"/><rect class="pd" x="1254" y="851" width="4" height="4"/><rect class="pb" x="1334" y="835" width="4" height="4"/></g>
<g id="n-U7"><rect class="b" x="1169" y="861" width="84" height="120"/><rect class="h" x="1169" y="861" width="84" height="10"/><rect class="d" x="1173" y="864" width="4" height="4"/><rect class="ic" x="1246" y="863" width="3" height="5"/><rect class="w" x="1173" y="898" width="76" height="6"/><rect class="w" x="1173" y="906" width="76" height="6"/><rect class="w" x="1173" y="914" width="76" height="6"/><rect class="w" x="1173" y="922" width="76" height="6"/><rect class="w" x="1173" y="930" width="76" height="6"/><rect class="w" x="1173" y="938" width="76" height="6"/><rect class="w" x="1173" y="946" width="76" height="6"/><rect class="w" x="1173" y="954" width="76" height="6"/><rect class="pb" x="1170" y="872" width="4" height="4"/><rect class="pg" x="1170" y="878" width="4" height="4"/><rect class="pd" x="1170" y="899" width="4" height="4"/><rect class="pd" x="1170" y="907" width="4" height="4"/><rect class="pb" x="1248" y="872" width="4" height="4"/><rect class="pd" x="1248" y="878" width="4" height="4"/><rect class="pd" x="1248" y="884" width="4" height="4"/><rect class="po" x="1248" y="891" width="4" height="4"/></g>
<g id="n-U8"><rect class="b" x="1256" y="872" width="80" height="30"/><rect class="h" x="1256" y="872" width="80" height="10"/><rect class="d" x="1260" y="875" width="4" height="4"/><rect class="pb" x="1257" y="884" width="4" height="4"/><rect class="pd" x="1331" y="884" width="4" height="4"/><rect class="pd" x="1331" y="890" width="4" height="4"/><rect class="pd" x="1331" y="896" width="4" height="4"/></g>
<g id="n-U9"><rect class="b" x="1259" y="912" width="86" height="42"/><rect class="h" x="1259" y="912" width="86" height="10"/><rect class="d" x="1263" y="915" width="4" height="4"/><rect class="pb" x="1260" y="924" width="4" height="4"/><rect class="pb" x="1260" y="930" width="4" height="4"/><rect class="pb" x="1341" y="924" width="4" height="4"/><rect class="w" x="1263" y="936" width="78" height="6"/><rect class="w" x="1263" y="944" width="78" height="6"/></g>
<g id="ra"><rect class="r" x="75" y="809" width="24" height="8"/><rect class="pg" x="77" y="811" width="4" height="4"/><rect class="po" x="94" y="811" width="4" height="4"/></g>
<g id="rb"><rect class="r" x="79" y="891" width="24" height="8"/><rect class="pg" x="81" y="893" width="4" height="4"/><rect class="po" x="98" y="893" width="4" height="4"/></g>
<g id="n-V1"><rect class="b" x="106" y="755" width="87" height="43"/><rect class="h" x="106" y="755" width="87" height="10"/><rect class="d" x="110" y="758" width="4" height="4"/><rect class="pb" x="107" y="767" width="4" height="4"/><rect class="pb" x="107" y="774" width="4" height="4"/><rect class="pb" x="188" y="767" width="4" height="4"/><rect class="w" x="111" y="780" width="77" height="6"/><rect class="w" x="111" y="788" width="77" height="6"/></g>
<g id="rc"><rect class="r" x="217" y="737" width="24" height="8"/><rect class="pg" x="219" y="739" width="4" height="4"/><rect class="pb" x="236" y="739" width="4" height="4"/></g>
<g id="n-V2"><rect class="b" x="250" y="752" width="46" height="89"/><rect class="h" x="250" y="752" width="46" height="10"/><rect class="d" x="254" y="755" width="4" height="4"/><rect class="pb" x="251" y="764" width="4" height="4"/><rect class="po" x="291" y="764" width="4" height="4"/></g>
<g id="n-V3"><rect class="b" x="327" y="756" width="87" height="43"/><rect class="h" x="327" y="756" width="87" height="10"/><rect class="d" x="331" y="759" width="4" height="4"/><rect class="pb" x="328" y="768" width="4" height="4"/><rect class="pb" x="409" y="768" width="4" height="4"/><rect class="w" x="332" y="775" width="77" height="6"/><rect class="w" x="332" y="783" width="77" height="6"/><rect class="w" x="332" y="791" width="77" height="6"/></g>
<g id="rd"><rect class="r" x="214" y="852" width="24" height="8"/><rect class="pg" x="216" y="854" width="4" height="4"/><rect class="pb" x="233" y="854" width="4" height="4"/></g>
<g id="re"><rect class="r" x="257" y="858" width="24" height="8"/><rect class="pg" x="259" y="860" width="4" height="4"/><rect class="pb" x="276" y="860" width="4" height="4"/></g>
<g id="n-V4"><rect class="b" x="304" y="842" width="51" height="31"/><rect class="h" x="304" y="842" width="51" height="10"/><rect class="d" x="308" y="845" width="4" height="4"/><rect class="pb" x="305" y="854" width="4" height="4"/><rect class="pd" x="350" y="854" width="4" height="4"/><rect class="pd" x="350" y="860" width="4" height="4"/><rect class="pd" x="350" y="867" width="4" height="4"/></g>
<g id="n-V5"><rect class="b" x="368" y="847" width="43" height="10"/><rect class="pG" x="370" y="850" width="4" height="4"/><rect class="po" x="406" y="850" width="4" height="4"/></g>
<g id="n-V6"><rect class="b" x="368" y="865" width="43" height="9"/><rect class="pG" x="370" y="867" width="4" height="4"/><rect class="po" x="406" y="867" width="4" height="4"/></g>
<g id="n-V7"><rect class="b" x="287" y="924" width="99" height="43"/><rect class="h" x="287" y="924" width="99" height="10"/><rect class="d" x="291" y="927" width="4" height="4"/><rect class="w" x="292" y="942" width="89" height="6"/><rect class="w" x="292" y="949" width="89" height="6"/><rect class="w" x="292" y="957" width="89" height="6"/><rect class="pb" x="288" y="936" width="4" height="4"/><rect class="pd" x="288" y="943" width="4" height="4"/><rect class="pd" x="288" y="950" width="4" height="4"/><rect class="pb" x="381" y="936" width="4" height="4"/></g>
<g id="n-V8"><rect class="b" x="425" y="996" width="46" height="88"/><rect class="h" x="425" y="996" width="46" height="10"/><rect class="d" x="429" y="999" width="4" height="4"/><rect class="pb" x="426" y="1008" width="4" height="4"/><rect class="po" x="466" y="1008" width="4" height="4"/></g>
<g id="rf"><rect class="r" x="192" y="1096" width="23" height="7"/><rect class="pg" x="194" y="1098" width="4" height="4"/><rect class="pb" x="210" y="1098" width="4" height="4"/></g>
<g id="rg"><rect class="r" x="239" y="1097" width="24" height="7"/><rect class="pg" x="241" y="1099" width="4" height="4"/><rect class="pb" x="258" y="1099" width="4" height="4"/></g>
<g id="rtop"><rect class="r" x="123" y="12" width="24" height="8"/><rect class="pg" x="125" y="14" width="4" height="4"/><rect class="pb" x="142" y="14" width="4" height="4"/></g>
<g id="rh"><rect class="r" x="215" y="187" width="24" height="7"/><rect class="pg" x="217" y="188" width="4" height="4"/><rect class="pb" x="234" y="188" width="4" height="4"/></g>
<g id="ri"><rect class="r" x="462" y="180" width="25" height="7"/><rect class="pg" x="464" y="181" width="4" height="4"/><rect class="pb" x="481" y="181" width="4" height="4"/></g>
<g id="rj"><rect class="r" x="201" y="451" width="24" height="7"/><rect class="pg" x="203" y="452" width="4" height="4"/><rect class="po" x="220" y="452" width="4" height="4"/></g>
<g id="rk"><rect class="r" x="401" y="462" width="24" height="7"/><rect class="pg" x="403" y="463" width="4" height="4"/><rect class="pb" x="420" y="463" width="4" height="4"/></g>
<g id="rl"><rect class="r" x="155" y="647" width="20" height="6"/><rect class="pg" x="157" y="648" width="4" height="4"/><rect class="pb" x="170" y="648" width="4" height="4"/></g>
<g id="rm"><rect class="r" x="1291" y="609" width="22" height="6"/><rect class="pg" x="1293" y="610" width="4" height="4"/><rect class="pb" x="1307" y="610" width="4" height="4"/></g>
<g id="n-W1"><rect class="b" x="446" y="732" width="102" height="47"/><rect class="h" x="446" y="732" width="102" height="10"/><rect class="d" x="450" y="735" width="4" height="4"/><rect class="pp" x="542" y="744" width="4" height="4"/><rect class="w" x="451" y="750" width="92" height="6"/><rect class="w" x="451" y="758" width="92" height="6"/></g>
<g id="n-W2"><rect class="b" x="451" y="790" width="101" height="32"/><rect class="h" x="451" y="790" width="101" height="10"/><rect class="d" x="455" y="793" width="4" height="4"/><rect class="pp" x="452" y="802" width="4" height="4"/><rect class="pp" x="547" y="802" width="4" height="4"/><rect class="w" x="456" y="808" width="91" height="6"/></g>
<g id="n-W3"><rect class="b" x="447" y="831" width="106" height="45"/><rect class="h" x="447" y="831" width="106" height="10"/><rect class="d" x="451" y="834" width="4" height="4"/><rect class="py" x="548" y="843" width="4" height="4"/><rect class="w" x="452" y="849" width="96" height="6"/><rect class="w" x="452" y="857" width="96" height="6"/><rect class="w" x="452" y="865" width="96" height="6"/></g>
<g id="n-W4"><rect class="b" x="449" y="887" width="106" height="29"/><rect class="h" x="449" y="887" width="106" height="10"/><rect class="d" x="453" y="890" width="4" height="4"/><rect class="pr" x="550" y="899" width="4" height="4"/><rect class="w" x="454" y="905" width="96" height="7"/></g>
<g id="n-W5"><rect x="459" y="923" width="94" height="69" fill="#2c2820" stroke="#6e5a34" stroke-width="2"/><rect x="460" y="924" width="92" height="10" fill="#42382a"/><rect class="d" x="463" y="927" width="4" height="4"/><rect x="462" y="937" width="88" height="52" fill="#232323"/></g>
<g id="n-W6"><rect class="b" x="580" y="739" width="46" height="24"/><rect class="h" x="580" y="739" width="46" height="10"/><rect class="d" x="584" y="742" width="4" height="4"/><rect class="pb" x="581" y="751" width="4" height="4"/><rect class="pr" x="581" y="758" width="4" height="4"/><rect class="pk" x="620" y="751" width="4" height="4"/></g>
<g id="n-W7"><rect class="b" x="634" y="739" width="93" height="28"/><rect class="h" x="634" y="739" width="93" height="10"/><rect class="d" x="638" y="742" width="4" height="4"/><rect class="pp" x="635" y="751" width="4" height="4"/><rect class="pp" x="722" y="751" width="4" height="4"/><rect class="w" x="638" y="757" width="85" height="6"/></g>
<g id="n-W8"><rect class="b" x="735" y="741" width="67" height="25"/><rect class="h" x="735" y="741" width="67" height="10"/><rect class="d" x="739" y="744" width="4" height="4"/><rect class="pk" x="736" y="753" width="4" height="4"/><rect class="pr" x="736" y="760" width="4" height="4"/><rect class="pb" x="797" y="753" width="4" height="4"/></g>
<g id="n-W9"><rect class="b" x="560" y="773" width="129" height="74"/><rect class="h" x="560" y="773" width="129" height="10"/><rect class="d" x="564" y="776" width="4" height="4"/><rect class="w" x="564" y="822" width="121" height="22"/><rect class="py" x="561" y="785" width="4" height="4"/><rect class="pr" x="561" y="791" width="4" height="4"/><rect class="pb" x="561" y="798" width="4" height="4"/><rect class="pb" x="561" y="804" width="4" height="4"/><rect class="pb" x="561" y="811" width="4" height="4"/><rect class="po" x="561" y="817" width="4" height="4"/><rect class="pO" x="684" y="785" width="4" height="4"/></g>
<g id="n-W10"><rect class="b" x="566" y="853" width="121" height="29"/><rect class="h" x="566" y="853" width="121" height="10"/><rect class="d" x="570" y="856" width="4" height="4"/><rect class="pO" x="567" y="865" width="4" height="4"/><rect class="pO" x="682" y="865" width="4" height="4"/><rect class="w" x="570" y="871" width="113" height="6"/></g>
<g id="n-W11"><rect class="b" x="567" y="889" width="128" height="74"/><rect class="h" x="567" y="889" width="128" height="10"/><rect class="d" x="571" y="892" width="4" height="4"/><rect class="w" x="570" y="936" width="122" height="24"/><rect class="py" x="568" y="901" width="4" height="4"/><rect class="pr" x="568" y="907" width="4" height="4"/><rect class="pb" x="568" y="913" width="4" height="4"/><rect class="pb" x="568" y="920" width="4" height="4"/><rect class="pb" x="568" y="926" width="4" height="4"/><rect class="pO" x="690" y="901" width="4" height="4"/></g>
<g id="n-W12"><rect class="b" x="704" y="781" width="99" height="209"/><rect class="h" x="704" y="781" width="99" height="10"/><rect class="d" x="708" y="784" width="4" height="4"/><rect class="pp" x="705" y="793" width="4" height="4"/><rect class="pO" x="705" y="799" width="4" height="4"/><rect class="pO" x="705" y="805" width="4" height="4"/><rect class="pk" x="705" y="812" width="4" height="4"/><rect class="pk" x="798" y="793" width="4" height="4"/><rect class="w" x="709" y="818" width="89" height="6"/><rect class="w" x="709" y="826" width="89" height="6"/><rect class="w" x="709" y="834" width="89" height="6"/><rect class="w" x="709" y="842" width="89" height="6"/><rect class="w" x="709" y="850" width="89" height="6"/><rect class="w" x="709" y="858" width="89" height="6"/><rect class="w" x="709" y="866" width="89" height="6"/></g>
<g id="n-W13"><rect class="b" x="569" y="971" width="121" height="30"/><rect class="h" x="569" y="971" width="121" height="10"/><rect class="d" x="573" y="974" width="4" height="4"/><rect class="pO" x="570" y="983" width="4" height="4"/><rect class="pO" x="685" y="983" width="4" height="4"/><rect class="w" x="573" y="989" width="113" height="7"/></g>
<g id="n-W14"><rect class="b" x="517" y="1017" width="129" height="74"/><rect class="h" x="517" y="1017" width="129" height="10"/><rect class="d" x="521" y="1020" width="4" height="4"/><rect class="po" x="641" y="1029" width="4" height="4"/><rect class="w" x="520" y="1038" width="123" height="50"/></g>
</g>
</svg>
